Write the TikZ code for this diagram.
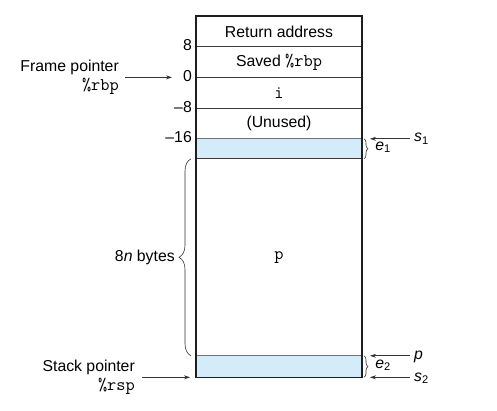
\documentclass[tikz,border=0pt]{standalone}
\usepackage{fontspec}
\setmainfont{Liberation Sans}
\setmonofont{Latin Modern Mono}[Scale=1.13]
\usetikzlibrary{arrows.meta,decorations.pathreplacing}
\definecolor{frameLine}{HTML}{1E1E1E}
\definecolor{cellLine}{HTML}{3A3A3A}
\definecolor{padFill}{HTML}{D4ECFA}
\definecolor{padLine}{HTML}{6E7478}
\definecolor{ptrLine}{HTML}{333333}

\begin{document}
\begin{tikzpicture}[
    x=1pt,y=-1pt,
    every node/.style={font=\fontsize{15.8}{18.5}\selectfont,inner sep=0pt},
    cell/.style={draw=cellLine,line width=0.7pt,minimum width=166pt,anchor=north,outer sep=0pt},
    pad/.style={cell,fill=padFill,draw=padLine},
    offset/.style={anchor=east},
    ptr/.style={-{Stealth[length=6pt,width=4pt]},draw=ptrLine,line width=0.7pt},
    bigbrace/.style={decorate,decoration={brace,amplitude=12pt},draw=ptrLine,line width=0.6pt},
    smallbrace/.style={decorate,decoration={brace,amplitude=4pt},draw=ptrLine,line width=0.6pt}
]
\useasboundingbox (0,0) rectangle (497,410);
\node[cell,minimum height=30.7pt] (ret) at (279,16) {Return address};
\node[cell,minimum height=30.7pt] (saved) at (ret.south) {Saved \texttt{\%rbp}};
\node[cell,minimum height=30.7pt] (ivar) at (saved.south) {\texttt{i}};
\node[cell,minimum height=30.7pt] (unused) at (ivar.south) {(Unused)};
\node[pad,minimum height=20pt] (pad1) at (unused.south) {};
\node[cell,minimum height=197pt] (pcell) at (pad1.south) {\texttt{p}};
\node[pad,minimum height=21.5pt] (pad2) at (pcell.south) {};
\draw[draw=frameLine,line width=1.6pt] (ret.north west) rectangle (pad2.south east);

\node[offset] (off8) at ([xshift=-4pt,yshift=1.5pt]ret.south west) {8};
\node[offset] (off0) at ([xshift=-4pt,yshift=1.5pt]saved.south west) {0};
\node[offset] (offm8) at ([xshift=-4pt,yshift=1.5pt]ivar.south west) {--8};
\node[offset] (offm16) at ([xshift=-4pt,yshift=1.5pt]unused.south west) {--16};

\node[anchor=east,align=right] (fp) at (119,77.4) {Frame pointer\\\texttt{\%rbp}};
\draw[ptr,shorten <=6pt,shorten >=24pt] (fp.east |- saved.south west) -- (saved.south west);
\node[anchor=east,align=right] (sp) at (135,377.3) {Stack pointer\\\texttt{\%rsp}};
\draw[ptr,shorten <=7pt,shorten >=6pt] (sp.east |- pad2.south west) -- (pad2.south west);

\draw[bigbrace] ([xshift=-5pt]pcell.south west) -- ([xshift=-5pt]pcell.north west)
    node[midway,anchor=east,xshift=-16pt] (bytes) {8\textit{n} bytes};

\node[anchor=base west] (s1) at (414,141.5) {\textit{s}\textsubscript{1}};
\draw[ptr,shorten <=4pt,shorten >=8pt] (s1.west |- pad1.north east) -- (pad1.north east);
\draw[smallbrace] ([xshift=2pt]pad1.north east) -- ([xshift=2pt]pad1.south east)
    node[midway,anchor=base west,xshift=11pt,yshift=-1.5pt] (e1) {\textit{e}\textsubscript{1}};

\node[anchor=base west] (plbl) at (414,359) {\textit{p}};
\draw[ptr,shorten <=4pt,shorten >=8pt] (plbl.west |- pad2.north east) -- (pad2.north east);
\node[anchor=base west] (s2) at (414,381) {\textit{s}\textsubscript{2}};
\draw[ptr,shorten <=4pt,shorten >=8pt] (s2.west |- pad2.south east) -- (pad2.south east);
\draw[smallbrace] ([xshift=2pt]pad2.north east) -- ([xshift=2pt]pad2.south east)
    node[midway,anchor=base west,xshift=11pt,yshift=-1.5pt] (e2) {\textit{e}\textsubscript{2}};
\end{tikzpicture}
\end{document}
